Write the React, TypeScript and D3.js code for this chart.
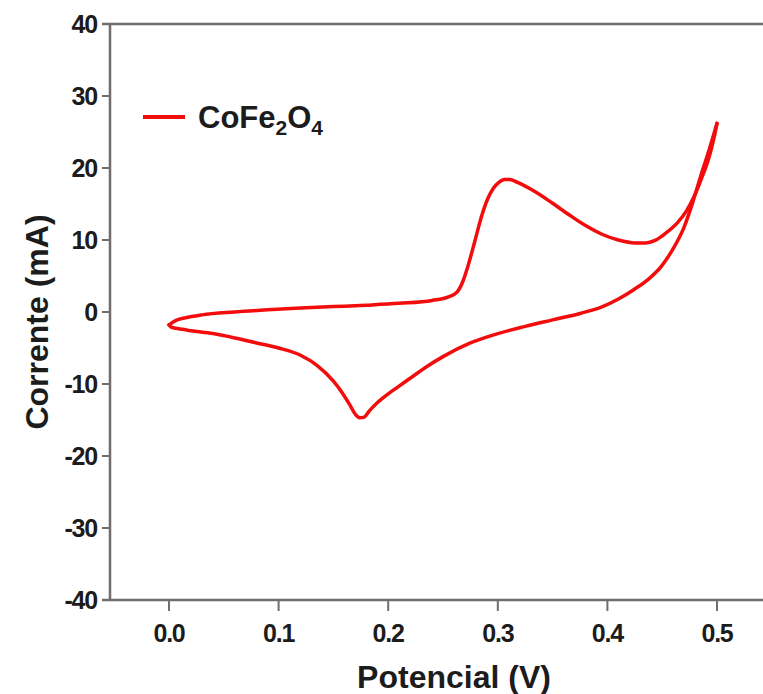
import React from "react";
import * as d3 from "d3";

const forwardV = [0.000, 0.006, 0.015, 0.030, 0.060, 0.090, 0.120, 0.150, 0.180, 0.210, 0.240, 0.255, 0.263, 0.268, 0.273, 0.279, 0.285, 0.291, 0.296, 0.301, 0.306, 0.311, 0.318, 0.333, 0.350, 0.365, 0.380, 0.395, 0.410, 0.425, 0.435, 0.443, 0.452, 0.464, 0.472, 0.479, 0.486, 0.492, 0.497, 0.500];
const forwardI = [-1.8, -1.2, -0.8, -0.4, 0.0, 0.3, 0.55, 0.75, 0.95, 1.2, 1.6, 2.1, 2.8, 4.2, 6.5, 9.8, 13.2, 15.8, 17.2, 18.0, 18.4, 18.4, 18.0, 16.8, 15.1, 13.5, 12.0, 10.8, 10.0, 9.6, 9.6, 9.9, 10.8, 12.4, 14.0, 16.0, 18.6, 21.1, 24.0, 26.2];

const reverseV = [0.500, 0.493, 0.486, 0.478, 0.470, 0.460, 0.449, 0.437, 0.424, 0.410, 0.395, 0.375, 0.350, 0.325, 0.300, 0.275, 0.250, 0.235, 0.220, 0.208, 0.198, 0.190, 0.183, 0.178, 0.174, 0.170, 0.165, 0.158, 0.150, 0.135, 0.120, 0.100, 0.080, 0.060, 0.040, 0.020, 0.008, 0.002, 0.000];
const reverseI = [26.2, 22.6, 19.3, 15.3, 11.8, 8.8, 6.3, 4.5, 3.1, 1.8, 0.7, -0.2, -1.1, -2.0, -3.0, -4.3, -6.2, -7.6, -9.2, -10.5, -11.6, -12.6, -13.7, -14.6, -14.7, -14.2, -12.9, -11.2, -9.6, -7.4, -6.0, -5.0, -4.3, -3.6, -3.0, -2.6, -2.3, -2.1, -1.8];

const xTicks = [0.0, 0.1, 0.2, 0.3, 0.4, 0.5];
const yTicks = [-40, -30, -20, -10, 0, 10, 20, 30, 40];

const xTitle = "Potencial (V)";
const yTitle = "Corrente (mA)";

const W = 763;
const H = 694;
const FONT = "'Liberation Sans', Arial, Helvetica, sans-serif";
const AXIS = "#6e6e6e";
const TEXT = "#1c1c1c";
const RED = "#f20c0c";

export default function App() {
  const x = d3.scaleLinear().domain([0, 0.5]).range([169, 717]);
  const y = d3.scaleLinear().domain([-40, 40]).range([600, 24]);
  const left = 110;
  const right = W;
  const top = y(40);
  const bottom = y(-40);

  const line = d3
    .line<[number, number]>()
    .x((d) => x(d[0]))
    .y((d) => y(d[1]))
    .curve(d3.curveMonotoneX);

  const fwd: [number, number][] = forwardV.map((v, i) => [v, forwardI[i]]);
  const rev: [number, number][] = reverseV.map((v, i) => [v, reverseI[i]]).reverse() as [number, number][];

  return (
    <svg
      width={W}
      height={H}
      style={{ position: "absolute", left: 0, top: 0, background: "#fff" }}
      fontFamily={FONT}
    >
      <rect x={0} y={0} width={W} height={H} fill="#fff" />
      <line x1={left - 8} x2={right} y1={top} y2={top} stroke={AXIS} strokeWidth={2.5} />
      <line x1={left - 8} x2={right} y1={bottom} y2={bottom} stroke={AXIS} strokeWidth={2.5} />
      <line x1={left} x2={left} y1={top} y2={bottom} stroke={AXIS} strokeWidth={2.5} />
      {yTicks.map((t) => (
        <g key={"y" + t}>
          <line x1={left - 8} x2={left} y1={y(t)} y2={y(t)} stroke={AXIS} strokeWidth={2} />
          <text
            x={97}
            y={y(t) + 9}
            textAnchor="end"
            fontSize={25}
            fontWeight="bold"
            fill={TEXT}
            letterSpacing={-1.2}
          >
            {t}
          </text>
        </g>
      ))}
      {xTicks.map((t) => (
        <g key={"x" + t}>
          <line x1={x(t)} x2={x(t)} y1={bottom} y2={bottom + 11} stroke={AXIS} strokeWidth={2} />
          <text
            x={x(t)}
            y={642}
            textAnchor="middle"
            fontSize={25}
            fontWeight="bold"
            fill={TEXT}
            letterSpacing={-1.2}
          >
            {t.toFixed(1)}
          </text>
        </g>
      ))}
      <text x={454} y={688} textAnchor="middle" fontSize={32} fontWeight="bold" fill={TEXT}>
        {xTitle}
      </text>
      <text
        transform={`translate(48, ${322}) rotate(-90)`}
        textAnchor="middle"
        fontSize={32}
        fontWeight="bold"
        fill={TEXT}
      >
        {yTitle}
      </text>
      <path d={line(fwd) || ""} fill="none" stroke={RED} strokeWidth={3.5} strokeLinecap="round" strokeLinejoin="round" />
      <path d={line(rev) || ""} fill="none" stroke={RED} strokeWidth={3.5} strokeLinecap="round" strokeLinejoin="round" />
      <line x1={143} x2={185} y1={117} y2={117} stroke={RED} strokeWidth={4} />
      <text x={198} y={128} fontSize={31} fontWeight="bold" fill={TEXT}>
        CoFe
        <tspan fontSize={21} dy={7}>2</tspan>
        <tspan dy={-7}>O</tspan>
        <tspan fontSize={21} dy={7}>4</tspan>
      </text>
    </svg>
  );
}
